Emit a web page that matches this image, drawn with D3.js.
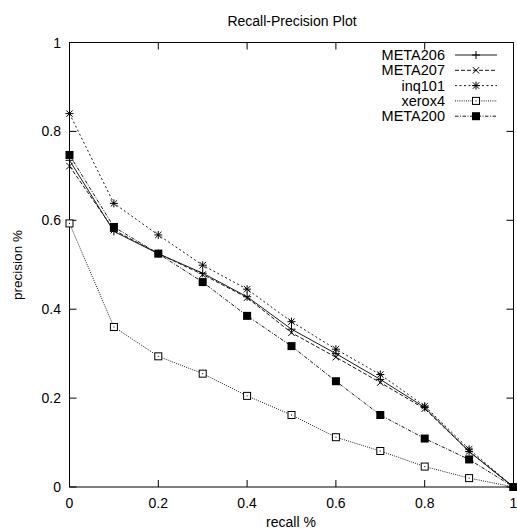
<!DOCTYPE html>
<html>
<head>
<meta charset="utf-8">
<script src="https://cdn.jsdelivr.net/npm/d3@7"></script>
<style>
html,body{margin:0;padding:0;background:#fff;}
svg{display:block;font-family:"Liberation Sans",Arial,Helvetica,sans-serif;}
</style>
</head>
<body>
<svg id="chart" width="517" height="529"></svg>
<script>
const recall = [0, 0.1, 0.2, 0.3, 0.4, 0.5, 0.6, 0.7, 0.8, 0.9, 1.0];
const meta206 = [0.735, 0.575, 0.525, 0.481, 0.428, 0.355, 0.300, 0.242, 0.179, 0.080, 0];
const meta207 = [0.722, 0.578, 0.525, 0.478, 0.426, 0.347, 0.292, 0.235, 0.176, 0.080, 0];
const inq101  = [0.840, 0.638, 0.567, 0.499, 0.445, 0.372, 0.310, 0.253, 0.182, 0.085, 0];
const xerox4  = [0.593, 0.360, 0.294, 0.255, 0.205, 0.162, 0.112, 0.081, 0.046, 0.020, 0];
const meta200 = [0.747, 0.585, 0.525, 0.461, 0.385, 0.317, 0.238, 0.162, 0.109, 0.062, 0];
const seriesNames = ["META206", "META207", "inq101", "xerox4", "META200"];
const xTicks = [0, 0.2, 0.4, 0.6, 0.8, 1];
const yTicks = [0, 0.2, 0.4, 0.6, 0.8, 1];
const titleText = "Recall-Precision Plot";
const xLabel = "recall %";
const yLabel = "precision %";

const seriesValues = [meta206, meta207, inq101, xerox4, meta200];
const styles = [
  {dash: null, marker: "plus"},
  {dash: "4,2", marker: "cross"},
  {dash: "2,2.5", marker: "star"},
  {dash: "1,1.2", marker: "openSquare"},
  {dash: "3.5,1.5,1,1.5", marker: "filledSquare"}
];
const lineColor = "#1a1a1a";

const svg = d3.select("#chart");
const L = 69.5, R = 513.5, T = 42.5, B = 487;
const x = d3.scaleLinear().domain([0, 1]).range([L, R]);
const y = d3.scaleLinear().domain([0, 1]).range([B, T]);

function drawMarker(g, type, cx, cy) {
  const s = 4;
  if (type === "plus") {
    g.append("path").attr("d", `M${cx-s},${cy}H${cx+s}M${cx},${cy-s}V${cy+s}`)
      .attr("stroke", "#000").attr("stroke-width", 1).attr("fill", "none");
  } else if (type === "cross") {
    const c = 3.2;
    g.append("path").attr("d", `M${cx-c},${cy-c}L${cx+c},${cy+c}M${cx-c},${cy+c}L${cx+c},${cy-c}`)
      .attr("stroke", "#000").attr("stroke-width", 1).attr("fill", "none");
  } else if (type === "star") {
    const c = 3.2;
    g.append("path").attr("d", `M${cx-s},${cy}H${cx+s}M${cx},${cy-s}V${cy+s}M${cx-c},${cy-c}L${cx+c},${cy+c}M${cx-c},${cy+c}L${cx+c},${cy-c}`)
      .attr("stroke", "#000").attr("stroke-width", 1).attr("fill", "none");
  } else if (type === "openSquare") {
    g.append("rect").attr("x", cx-3.5).attr("y", cy-3.5).attr("width", 7).attr("height", 7)
      .attr("fill", "#fff").attr("stroke", "#000").attr("stroke-width", 1);
    g.append("rect").attr("x", cx-0.5).attr("y", cy-0.5).attr("width", 1).attr("height", 1).attr("fill", "#000");
  } else if (type === "filledSquare") {
    g.append("rect").attr("x", cx-4).attr("y", cy-4).attr("width", 8).attr("height", 8)
      .attr("fill", "#000");
  }
}

// Frame
svg.append("rect").attr("x", L).attr("y", T).attr("width", R-L).attr("height", B-T)
  .attr("fill", "none").attr("stroke", "#000").attr("stroke-width", 1);

// Ticks (inward, mirrored)
const tl = 7;
const tg = svg.append("g").attr("stroke", "#000").attr("stroke-width", 1);
xTicks.forEach(t => {
  const px = x(t);
  tg.append("line").attr("x1", px).attr("x2", px).attr("y1", B).attr("y2", B - tl);
  tg.append("line").attr("x1", px).attr("x2", px).attr("y1", T).attr("y2", T + tl);
});
yTicks.forEach(t => {
  const py = y(t);
  tg.append("line").attr("x1", L).attr("x2", L + tl).attr("y1", py).attr("y2", py);
  tg.append("line").attr("x1", R).attr("x2", R - tl).attr("y1", py).attr("y2", py);
});

// Tick labels
const fmt = d => d === 0 ? "0" : d === 1 ? "1" : d3.format(".1f")(d);
svg.append("g").selectAll("text").data(xTicks).join("text")
  .attr("x", d => x(d)).attr("y", 508).attr("text-anchor", "middle")
  .attr("font-size", 14).attr("fill", "#000").text(fmt);
svg.append("g").selectAll("text").data(yTicks).join("text")
  .attr("x", 61).attr("y", d => y(d) + 5).attr("text-anchor", "end")
  .attr("font-size", 14).attr("fill", "#000").text(fmt);

// Title and axis labels
svg.append("text").attr("x", 292).attr("y", 25.5).attr("text-anchor", "middle")
  .attr("font-size", 14).attr("fill", "#000").text(titleText);
svg.append("text").attr("x", 291).attr("y", 527).attr("text-anchor", "middle")
  .attr("font-size", 14).attr("fill", "#000").text(xLabel);
svg.append("text").attr("transform", "translate(22,265) rotate(-90)").attr("text-anchor", "middle")
  .attr("font-size", 13.5).attr("fill", "#000").text(yLabel);

// Series
const line = d3.line().x(d => x(d[0])).y(d => y(d[1]));
seriesValues.forEach((vals, i) => {
  const pts = recall.map((r, j) => [r, vals[j]]);
  const g = svg.append("g");
  g.append("path").attr("d", line(pts)).attr("fill", "none").attr("stroke", lineColor)
    .attr("stroke-width", 1).attr("stroke-dasharray", styles[i].dash);
  pts.forEach(p => drawMarker(g, styles[i].marker, x(p[0]), y(p[1])));
});

// Legend
const legY0 = 55, legDy = 15.3;
seriesNames.forEach((name, i) => {
  const ly = legY0 + i * legDy;
  const g = svg.append("g");
  g.append("text").attr("x", 445).attr("y", ly + 5).attr("text-anchor", "end")
    .attr("font-size", 14.5).attr("fill", "#000").text(name);
  g.append("line").attr("x1", 455).attr("x2", 497).attr("y1", ly).attr("y2", ly)
    .attr("stroke", lineColor).attr("stroke-width", 1).attr("stroke-dasharray", styles[i].dash);
  drawMarker(g, styles[i].marker, 476, ly);
});
</script>
</body>
</html>
